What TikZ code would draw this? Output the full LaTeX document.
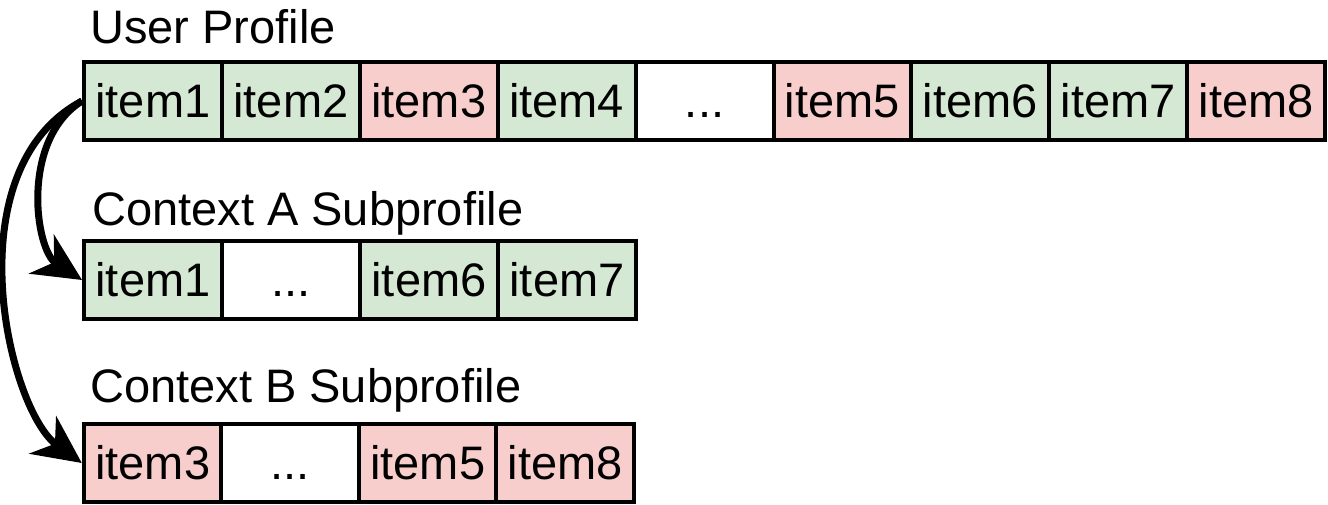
\documentclass[tikz,border=0pt]{standalone}
\usepackage{fontspec}
\setmainfont{Liberation Sans}
\usetikzlibrary{arrows.meta}
\definecolor{okgreen}{HTML}{D5E8D4}
\definecolor{nored}{HTML}{F8CECC}
\newcommand{\gapdots}{...}
\tikzset{cell/.style = {draw, line width=4pt, minimum width=137.9pt, minimum height=78pt,
    inner sep=0pt, text height=33pt, text depth=0pt, font=\fontsize{47}{50}\selectfont},
  good/.style = {cell, fill=okgreen},
  bad/.style = {cell, fill=nored},
  blank/.style = {cell, fill=white},
  title/.style = {anchor=base west, inner sep=0pt, font=\fontsize{47}{50}\selectfont},
  link/.style = {line width=7pt, -{Stealth[length=48pt, width=46pt, inset=15pt]}}}
\begin{document}
\begin{tikzpicture}[x=1pt, y=-1pt]
      \useasboundingbox (0,0) rectangle (1328,504);
      \node[title] (userlbl) at (90,43) {User Profile};
      \node[title] (ctxalbl) at (92,225) {Context A Subprofile};
      \node[title] (ctxblbl) at (90,402) {Context B Subprofile};
      % full profile
      \foreach \t/\s [count=\i] in {item1/good, item2/good, item3/bad, item4/good, \gapdots/blank,
          item5/bad, item6/good, item7/good, item8/bad}
        \node[\s] (u\i) at ({84+(\i-.5)*137.9}, 101) {\t};
      % subprofiles
      \foreach \t/\s [count=\i] in {item1/good, \gapdots/blank, item6/good, item7/good}
        \node[\s] (a\i) at ({84+(\i-.5)*138}, 280) {\t};
      \foreach \t/\s [count=\i] in {item3/bad, \gapdots/blank, item5/bad, item8/bad}
        \node[\s] (b\i) at ({84+(\i-.5)*137.5}, 463) {\t};
      \draw[link] (u1.west) .. controls (20,140) and (35,250) .. (a1.west);
      \draw[link] (u1.west) .. controls (-48,170) and (8,410) .. (b1.west);
    \end{tikzpicture}
\end{document}
